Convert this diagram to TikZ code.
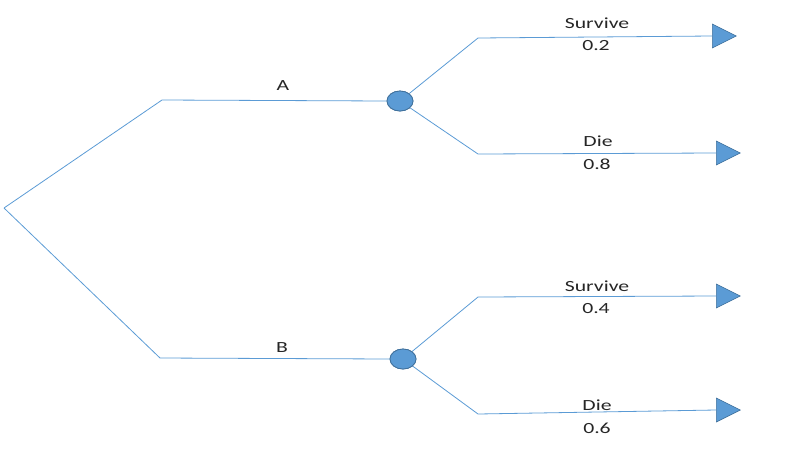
\documentclass[tikz,border=0pt]{standalone}
\usepackage{fontspec}
\setmainfont{Carlito}
\usetikzlibrary{shapes.geometric}
\definecolor{ln}{RGB}{91,155,213}
\definecolor{bd}{RGB}{65,113,156}
\newcommand{\wide}[1]{\scalebox{1.4}[1]{#1}}
\begin{document}
\begin{tikzpicture}[x=1pt,y=-1pt,
  branch/.style={draw=ln,line width=0.8pt},
  chance/.style={ellipse,draw=bd,fill=ln,line width=0.8pt,minimum width=26pt,minimum height=20pt,inner sep=0pt},
  term/.style={isosceles triangle,isosceles triangle stretches,draw=bd,fill=ln,line width=0.6pt,minimum width=24pt,minimum height=24pt,inner sep=0pt,anchor=west},
  lbl/.style={font=\fontsize{15.5}{18}\selectfont,inner sep=0pt,text=black!85}]
\useasboundingbox (0,0) rectangle (795,459);
\coordinate (root) at (4,208);
\coordinate (ka) at (162,100);
\coordinate (kb) at (160,358);
\node[chance] (ca) at (400,101) {};
\node[chance] (cb) at (403,359) {};
\coordinate (a1) at (478,38);
\coordinate (a2) at (478,154);
\coordinate (b1) at (478,297);
\coordinate (b2) at (478,414);
\node[term] (t1) at (712,36) {};
\node[term] (t2) at (716,153) {};
\node[term] (t3) at (716,296) {};
\node[term] (t4) at (716,410) {};
\draw[branch] (root) -- (ka) -- (ca.west);
\draw[branch] (root) -- (kb) -- (cb.west);
\draw[branch] (ca) -- (a1) -- (t1.west);
\draw[branch] (ca) -- (a2) -- (t2.west);
\draw[branch] (cb) -- (b1) -- (t3.west);
\draw[branch] (cb) -- (b2) -- (t4.west);
\node[chance] at (ca) {};
\node[chance] at (cb) {};
\node[lbl] (la) at (283,86) {\wide{A}};
\node[lbl] (lb) at (282,348) {\wide{B}};
\node[lbl] (s1) at (597,23) {\wide{Survive}};
\node[lbl] (p1) at (596,46) {\wide{0.2}};
\node[lbl] (d1) at (598,141) {\wide{Die}};
\node[lbl] (p2) at (597,164) {\wide{0.8}};
\node[lbl] (s2) at (597,286) {\wide{Survive}};
\node[lbl] (p3) at (596,309) {\wide{0.4}};
\node[lbl] (d2) at (597,405) {\wide{Die}};
\node[lbl] (p4) at (597,428) {\wide{0.6}};
\end{tikzpicture}
\end{document}
